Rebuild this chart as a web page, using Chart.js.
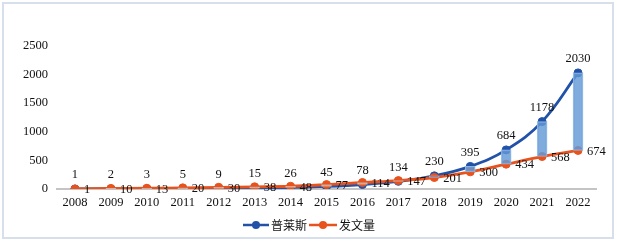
<!DOCTYPE html>
<html><head><meta charset="utf-8">
<script src="https://cdn.jsdelivr.net/npm/chart.js@4/dist/chart.umd.min.js"></script>
<style>
html,body{margin:0;padding:0;background:#fff;}
#wrap{position:relative;width:617px;height:243px;overflow:hidden;}
#frame{position:absolute;left:2px;top:2px;width:612px;height:237px;box-sizing:border-box;border:2px solid #D6DFEA;pointer-events:none;}
canvas{position:absolute;left:0;top:0;}
</style></head>
<body>
<div id="wrap"><canvas id="c" width="617" height="243"></canvas><div id="frame"></div></div>
<script>
const years = ['2008','2009','2010','2011','2012','2013','2014','2015','2016','2017','2018','2019','2020','2021','2022'];
const prices = [1,2,3,5,9,15,26,45,78,134,230,395,684,1178,2030];
const papers = [1,10,13,20,30,38,48,77,114,147,201,300,434,568,674];
const yTicks = [0,500,1000,1500,2000,2500];
const seriesNames = ['普莱斯','发文量'];

const BLUE = '#2152A8', ORANGE = '#E8521D';
const SERIF = '"Liberation Serif","Times New Roman",serif';
const CJK = '"Noto Sans CJK SC","Noto Sans CJK JP",sans-serif';

const barData = years.map((_, i) => [papers[i], prices[i]]);
const barColors = years.map((_, i) => prices[i] >= papers[i] ? 'rgba(100,152,214,0.82)' : 'rgba(235,235,235,0.7)');
const barBorders = years.map((_, i) => prices[i] >= papers[i] ? 'rgba(150,190,232,0.9)' : 'rgba(190,190,190,0.8)');

const labelPlugin = {
  id: 'labels',
  afterDatasetsDraw(chart) {
    const ctx = chart.ctx;
    ctx.save();
    ctx.font = '12.5px ' + SERIF;
    ctx.fillStyle = '#111';
    ctx.textBaseline = 'middle';
    const m0 = chart.getDatasetMeta(0);
    ctx.textAlign = 'center';
    m0.data.forEach((pt, i) => ctx.fillText(String(prices[i]), pt.x, pt.y - 14));
    const m1 = chart.getDatasetMeta(1);
    ctx.textAlign = 'left';
    m1.data.forEach((pt, i) => ctx.fillText(String(papers[i]), pt.x + 9, pt.y + 1));
    ctx.restore();
  },
  afterDraw(chart) {
    const ctx = chart.ctx;
    ctx.save();
    const items = [
      {name: seriesNames[0], color: BLUE, x0: 243, x1: 269, tx: 271},
      {name: seriesNames[1], color: ORANGE, x0: 309, x1: 337, tx: 339}
    ];
    const y = 225;
    items.forEach(it => {
      ctx.strokeStyle = it.color; ctx.lineWidth = 2.5;
      ctx.beginPath(); ctx.moveTo(it.x0, y); ctx.lineTo(it.x1, y); ctx.stroke();
      ctx.fillStyle = it.color;
      ctx.beginPath(); ctx.arc((it.x0 + it.x1) / 2, y, 4, 0, Math.PI * 2); ctx.fill();
      ctx.fillStyle = '#111';
      ctx.font = '12px ' + CJK;
      ctx.textAlign = 'left'; ctx.textBaseline = 'middle';
      ctx.fillText(it.name, it.tx, y);
    });
    ctx.restore();
  }
};

new Chart(document.getElementById('c'), {
  data: {
    labels: years,
    datasets: [
      {type: 'line', label: seriesNames[0], data: prices, borderColor: BLUE, backgroundColor: BLUE,
       borderWidth: 2.8, pointRadius: 4, pointBorderWidth: 1, pointBorderColor: BLUE, tension: 0.4, order: 2},
      {type: 'line', label: seriesNames[1], data: papers, borderColor: ORANGE, backgroundColor: ORANGE,
       borderWidth: 2.8, pointRadius: 4, pointBorderWidth: 1, pointBorderColor: ORANGE, tension: 0.4, order: 1},
      {type: 'bar', label: 'updown', data: barData, backgroundColor: barColors, borderColor: barBorders,
       borderWidth: 1, barThickness: 10, borderSkipped: false, order: 0}
    ]
  },
  options: {
    responsive: false,
    animation: false,
    events: [],
    layout: {padding: {left: 0, right: 21, top: 46, bottom: 0}},
    plugins: {legend: {display: false}, tooltip: {enabled: false}},
    scales: {
      x: {
        type: 'category', offset: true,
        grid: {display: false, drawTicks: false},
        border: {display: true, color: '#C4C4C4', width: 2},
        ticks: {font: {family: SERIF, size: 12.5}, color: '#111', padding: 6, maxRotation: 0, autoSkip: false},
        afterFit(s) { s.height = 54; }
      },
      y: {
        min: 0, max: 2500,
        afterBuildTicks(s) { s.ticks = yTicks.map(v => ({value: v})); },
        grid: {display: false, drawTicks: false},
        border: {display: false},
        ticks: {font: {family: SERIF, size: 12.5}, color: '#111', padding: 9, callback: v => String(v)},
        afterFit(s) { s.width = 57; }
      }
    }
  },
  plugins: [labelPlugin]
});
</script>
</body></html>
